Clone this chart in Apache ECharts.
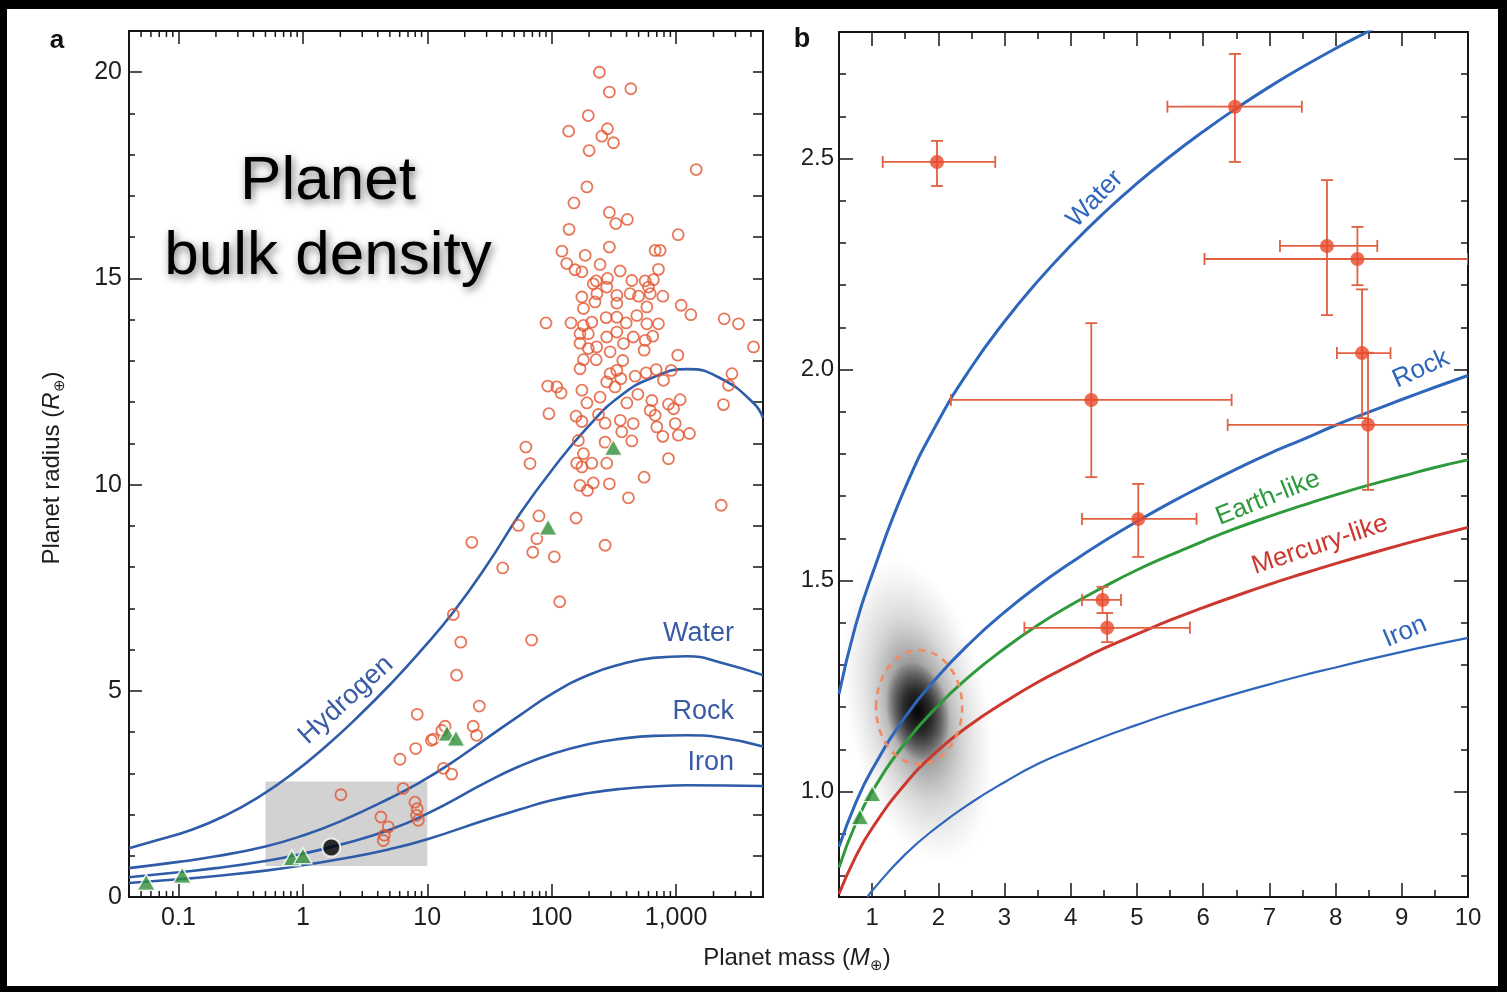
<!DOCTYPE html>
<html>
<head>
<meta charset="utf-8">
<script src="https://cdn.jsdelivr.net/npm/echarts@6/dist/echarts.min.js"></script>
<style>
  html, body { margin: 0; padding: 0; background: #fff; }
  #chart { width: 1507px; height: 992px; }
</style>
</head>
<body>
<div id="chart"></div>
<script>
// ---------- Panel a: mass–radius of known planets (Earth units) ----------
const exoplanetsA = [
  [242,20.0],[291,19.52],[433,19.6],[197,18.95],[137,18.57],[281,18.63],[253,18.45],[314,18.29],[200,18.1],[1452,17.64],
  [192,17.22],[151,16.83],[291,16.6],[328,16.33],[406,16.43],[138,16.19],[1040,16.06],[121,15.66],[186,15.56],[291,15.76],
  [679,15.68],[745,15.68],[132,15.36],[154,15.21],[175,15.16],[245,15.34],[355,15.18],[722,15.22],[281,15.0],[228,14.94],
  [441,14.95],[564,14.94],[658,14.97],[216,14.87],
  [231,14.63],[334,14.59],[499,14.57],[620,14.63],[783,14.57],[223,14.43],[334,14.4],[180,14.27],[582,14.31],[1099,14.35],
  [1315,14.12],[90,13.92],[143,13.92],[210,13.94],[274,14.05],[334,14.06],[397,13.92],[484,14.1],[582,13.9],[722,13.9],
  [2438,14.02],[3177,13.9],[4198,13.34],[169,13.66],[197,13.66],[334,13.7],[650,13.6],[169,13.43],[197,13.3],[295,13.22],
  [378,13.42],[554,13.26],[1033,13.14],[180,13.03],[228,13.03],[373,13.01],[169,12.81],[295,12.69],[334,12.77],[360,12.57],
  [277,12.49],[323,12.37],[469,12.63],[575,12.71],[692,12.79],[792,12.53],[914,12.77],[2813,12.69],[2642,12.41],[93,12.39],
  [119,12.22],[175,12.29],[192,11.98],[245,12.12],[402,11.98],[493,12.19],[639,12.04],[869,11.95],[1079,12.06],[2404,11.94],
  [95,11.72],[157,11.66],[175,11.53],[238,11.7],[269,11.49],[620,11.8],[679,11.68],[984,11.48],[366,11.28],[441,11.06],
  [700,11.4],[783,11.17],[1045,11.2],[1282,11.24],[164,11.07],[269,11.03],[62,10.91],[67,10.51],[159,10.52],[180,10.75],
  [175,10.43],[210,10.52],[277,10.52],[869,10.63],[169,9.98],[194,9.86],[216,10.04],[291,10.02],[554,10.18],[414,9.68],
  [2307,9.5],[79,9.24],[157,9.19],[54,9.01],[76,8.69],[269,8.53],
  [277,14.79],[600,14.79],[175,14.55],[427,14.63],[180,13.86],[230,13.34],[277,13.58],[453,13.58],[565,13.5],[110,12.37],
  [955,11.84],[356,11.56],[453,11.48],
  [22.8,8.6],[70.5,8.36],[105,8.25],[40.4,7.98],[116,7.16],[69,6.23],[16.2,6.85],[18.6,6.18],[17.2,5.38],[26.2,4.63],
  [23.4,4.14],[24.9,3.92],[13.9,4.14],[11.2,3.83],[13.1,4.04],[13.5,3.12],[15.7,2.98],
  [8.3,4.43],[6.03,3.34],[8.07,3.6],[10.8,3.8],[2.02,2.48],[6.4,2.63],[7.96,2.3],[8.3,2.14],[8.2,1.98],[8.47,1.86],
  [4.24,1.94],[4.86,1.7],[4.51,1.5],[4.43,1.37]
];

// Solar-system planets (Mercury, Mars, Venus, Earth, Uranus, Neptune, Saturn, Jupiter)
const solarPlanetsA = [[0.055,0.36],[0.107,0.53],[0.815,0.95],[1.0,1.0],[14.4,3.97],[17.0,3.85],[93.6,8.97],[313,10.9]];
const kepler78b = [1.69, 1.20];
const zoomBoxA = [0.5, 0.75, 10, 2.8];

// Composition curves, panel a
const hydrogenCurveA = [[0.04,1.18],[0.068,1.38],[0.128,1.63],[0.236,1.97],[0.434,2.41],[0.816,2.98],[1.5,3.63],[2.77,4.37],
  [5.2,5.2],[8.75,5.95],[16.1,6.9],[30.2,8.05],[55.8,9.3],[102,10.38],[193,11.38],[356,12.15],[655,12.6],[1228,12.8],
  [2270,12.58],[4190,11.98],[5000,11.62]];
const waterCurveA = [[0.04,0.70],[0.1,0.851],[0.2,0.986],[0.5,1.226],[1,1.49],[2,1.835],[5,2.395],[8.75,2.782],[15,3.215],
  [30.2,3.853],[55,4.399],[102,4.937],[200,5.388],[356,5.639],[655,5.798],[1228,5.839],[2270,5.689],[5000,5.38]];
const rockCurveA = [[0.04,0.48],[0.1,0.6],[0.2,0.70],[0.5,0.874],[1,1.05],[2,1.27],[5,1.63],[10,2.02],[30.2,2.79],[55,3.17],
  [102,3.475],[200,3.71],[356,3.834],[655,3.908],[1228,3.922],[2270,3.869],[5000,3.649]];
const ironCurveA = [[0.04,0.34],[0.1,0.43],[0.2,0.51],[0.5,0.64],[1,0.77],[2,0.92],[5,1.16],[10,1.40],[30.2,1.88],[55,2.12],
  [102,2.35],[200,2.52],[356,2.62],[655,2.68],[1228,2.71],[5000,2.69]];

// ---------- Panel b: small planets with measured masses ----------
const massB      = [1.98, 6.48, 7.87, 8.33, 8.40, 8.49, 4.31, 5.02, 4.48, 4.55];
const radiusB    = [2.492, 2.623, 2.293, 2.262, 2.039, 1.869, 1.928, 1.646, 1.454, 1.388];
const massLoB    = [1.16, 5.46, 7.16, 6.02, 8.02, 6.37, 2.19, 4.17, 4.17, 3.30];
const massHiB    = [2.86, 7.49, 8.63, 10.0, 8.83, 10.1, 6.43, 5.90, 4.76, 5.80];
const radiusLoB  = [2.435, 2.492, 2.129, 2.20, 1.885, 1.715, 1.745, 1.556, 1.423, 1.354];
const radiusHiB  = [2.542, 2.748, 2.449, 2.338, 2.19, 2.04, 2.11, 1.729, 1.485, 1.423];
const solarPlanetsB = [[0.815,0.94],[1.0,0.995]];
// Kepler-78b posterior: centre, half-extent of the shaded cloud and of the dashed contour
const cloudB   = [1.69, 1.19, 1.08, 0.37];
const contourB = [1.71, 1.20, 0.65, 0.135];

const waterCurveB = [[0.5,1.231],[0.75,1.393],[1,1.514],[1.5,1.72],[2,1.878],[2.5,2.006],[3,2.114],[3.5,2.209],[4,2.294],
  [4.5,2.371],[5,2.441],[5.5,2.505],[6,2.564],[6.5,2.619],[7,2.67],[7.5,2.717],[8,2.761],[8.5,2.802],[9,2.843]];
const rockCurveB = [[0.5,0.869],[0.75,0.972],[1,1.052],[1.5,1.177],[2,1.274],[2.5,1.355],[3,1.425],[3.5,1.487],[4,1.542],
  [4.5,1.593],[5,1.64],[5.5,1.684],[6,1.725],[6.5,1.764],[7,1.801],[7.5,1.834],[8,1.868],[8.5,1.899],[9,1.929],[9.5,1.958],[10,1.986]];
const earthCurveB = [[0.5,0.82],[0.75,0.923],[1,1.0],[1.5,1.115],[2,1.204],[2.5,1.277],[3,1.339],[3.5,1.394],[4,1.442],
  [4.5,1.485],[5,1.525],[5.5,1.56],[6,1.593],[6.5,1.624],[7,1.652],[7.5,1.678],[8,1.703],[8.5,1.726],[9,1.747],[9.5,1.768],[10,1.786]];
const mercuryCurveB = [[0.5,0.757],[0.75,0.845],[1,0.913],[1.5,1.018],[2,1.098],[2.5,1.16],[3,1.212],[3.5,1.259],[4,1.30],
  [4.5,1.339],[5,1.373],[5.5,1.406],[6,1.436],[6.5,1.464],[7,1.491],[7.5,1.516],[8,1.54],[8.5,1.563],[9,1.585],[9.5,1.606],[10,1.626]];
const ironCurveB = [[0.93,0.75],[1,0.765],[1.5,0.851],[2,0.918],[2.5,0.974],[3,1.022],[3.5,1.065],[4,1.099],[4.5,1.13],
  [5,1.158],[5.5,1.185],[6,1.209],[6.5,1.232],[7,1.254],[7.5,1.275],[8,1.294],[8.5,1.313],[9,1.331],[9.5,1.348],[10,1.364]];

// ---------- Tick labels ----------
const massTicksA  = [0.1, 1, 10, 100, 1000];
const massLabelsA = ['0.1', '1', '10', '100', '1,000'];
const radiusTicksA = [0, 5, 10, 15, 20];
const massTicksB  = [1, 2, 3, 4, 5, 6, 7, 8, 9, 10];
const radiusTicksB = [1.0, 1.5, 2.0, 2.5];

// ---------- Styling ----------
const FONT = "'Liberation Sans', Arial, Helvetica, sans-serif";
const AXIS = '#161616';
const TEXT = '#1e1e1e';
const BLUE_A = '#2f5ca8';
const BLUE_B = '#2e66bb';
const LABEL_BLUE = '#3a5aa6';
const GREEN = '#2e9a3c';
const TRI_GREEN = '#2f8e37';
const MERC_RED = '#cc372e';
const EXO_RED = '#e2552f';
const PT_RED = '#e8482a';

const near = (a, b) => Math.abs(a - b) < 1e-6 * Math.max(1, Math.abs(b));

// log-axis minor ticks at 2..9 x 10^n inside the mass range of panel a
const minorMassA = [];
[0.01, 0.1, 1, 10, 100, 1000].forEach(d => {
  for (let k = 2; k <= 9; k++) {
    const v = k * d;
    if (v > 0.04 && v < 5000) minorMassA.push([v, 0]);
  }
});

const axisLine = { show: true, onZero: false, lineStyle: { color: AXIS, width: 2 } };
const labelBase = { color: TEXT, fontFamily: FONT, fontSize: 25 };

function massAxisA(position, labels) {
  return {
    type: 'log', logBase: 10, gridIndex: 0, position, min: 0.04, max: 5000,
    axisLine,
    axisTick: { show: true, inside: true, length: 13, lineStyle: { color: AXIS, width: 1.5 } },
    axisLabel: Object.assign({ show: labels, margin: 9, showMinLabel: true, showMaxLabel: true,
      formatter: v => { const i = massTicksA.findIndex(t => near(v, t)); return i >= 0 ? massLabelsA[i] : ''; } }, labelBase),
    splitLine: { show: false }
  };
}
function radiusAxisA(position, labels) {
  return {
    type: 'value', gridIndex: 0, position, min: 0, max: 21, interval: labels ? 5 : 1,
    axisLine,
    axisTick: { show: true, inside: true, length: labels ? 13 : 10, lineStyle: { color: AXIS, width: 1.5 } },
    minorTick: { show: labels, splitNumber: 5, length: 6, lineStyle: { color: AXIS, width: 1.5 } },
    axisLabel: Object.assign({ show: labels, margin: 7,
      formatter: v => radiusTicksA.some(t => near(v, t)) ? String(v) : '' }, labelBase),
    splitLine: { show: false }
  };
}
function massAxisB(position, labels) {
  return {
    type: 'value', gridIndex: 1, position, min: 0.5, max: 10, minInterval: 1, maxInterval: 1,
    axisLine,
    axisTick: { show: true, inside: true, length: 14, lineStyle: { color: AXIS, width: 1.5 } },
    minorTick: { show: true, splitNumber: 2, length: 7, lineStyle: { color: AXIS, width: 1.5 } },
    axisLabel: Object.assign({ show: labels, margin: 9,
      formatter: v => massTicksB.some(t => near(v, t)) ? String(Math.round(v)) : '' }, labelBase, { fontSize: 24 }),
    splitLine: { show: false }
  };
}
function radiusAxisB(position, labels) {
  return {
    type: 'value', gridIndex: 1, position, min: 0.75, max: 2.8, minInterval: 0.5, maxInterval: 0.5,
    axisLine,
    axisTick: { show: true, inside: true, length: 14, lineStyle: { color: AXIS, width: 1.5 } },
    minorTick: { show: true, splitNumber: 5, length: 7, lineStyle: { color: AXIS, width: 1.5 } },
    axisLabel: Object.assign({ show: labels, margin: 5,
      formatter: v => radiusTicksB.some(t => near(v, t)) ? v.toFixed(1) : '' }, labelBase, { fontSize: 24 }),
    splitLine: { show: false }
  };
}

function curve(name, data, color, width, xi, yi) {
  return { name, type: 'line', xAxisIndex: xi, yAxisIndex: yi, data, smooth: 0.5, showSymbol: false,
    lineStyle: { color, width }, z: 3, silent: true };
}

// Error bars with end caps (panel b)
const errorRows = massB.map((m, i) => [m, radiusB[i], massLoB[i], massHiB[i], radiusLoB[i], radiusHiB[i]]);
function renderErrorBar(params, api) {
  const x = api.value(0), y = api.value(1);
  const l = api.coord([api.value(2), y]), h = api.coord([api.value(3), y]);
  const lo = api.coord([x, api.value(4)]), hi = api.coord([x, api.value(5)]);
  const cap = 6;
  const st = { stroke: '#e0603f', lineWidth: 1.8 };
  const ln = (x1, y1, x2, y2) => ({ type: 'line', shape: { x1, y1, x2, y2 }, style: st });
  return { type: 'group', children: [
    ln(l[0], l[1], h[0], h[1]),
    ln(lo[0], lo[1], hi[0], hi[1]),
    ln(l[0], l[1] - cap, l[0], l[1] + cap),
    ln(h[0], h[1] - cap, h[0], h[1] + cap),
    ln(lo[0] - cap, lo[1], lo[0] + cap, lo[1]),
    ln(hi[0] - cap, hi[1], hi[0] + cap, hi[1])
  ] };
}

function renderCloud(params, api) {
  const c = api.coord([api.value(0), api.value(1)]);
  const rx = api.size([api.value(2), 0])[0];
  const ry = api.size([0, api.value(3)])[1];
  const halo = { type: 'radial', x: 0.5, y: 0.5, r: 0.5, colorStops: [
    { offset: 0, color: 'rgba(0,0,0,0.6)' }, { offset: 0.3, color: 'rgba(25,25,25,0.45)' },
    { offset: 0.6, color: 'rgba(90,90,90,0.24)' }, { offset: 0.85, color: 'rgba(140,140,140,0.1)' },
    { offset: 1, color: 'rgba(180,180,180,0)' } ] };
  const core = { type: 'radial', x: 0.5, y: 0.5, r: 0.5, colorStops: [
    { offset: 0, color: 'rgba(0,0,0,0.95)' }, { offset: 0.45, color: 'rgba(10,10,10,0.7)' },
    { offset: 1, color: 'rgba(0,0,0,0)' } ] };
  return { type: 'group', children: [
    { type: 'circle', x: c[0], y: c[1], rotation: 0.2, scaleY: ry / rx, shape: { cx: 0, cy: 0, r: rx }, style: { fill: halo } },
    { type: 'circle', x: c[0], y: c[1], rotation: 0.2, scaleY: (ry * 0.32) / (rx * 0.44), shape: { cx: 0, cy: 0, r: rx * 0.44 }, style: { fill: core } }
  ] };
}

function renderContour(params, api) {
  const c = api.coord([api.value(0), api.value(1)]);
  const rx = api.size([api.value(2), 0])[0];
  const ry = api.size([0, api.value(3)])[1];
  return { type: 'ellipse', shape: { cx: c[0], cy: c[1], rx, ry },
    style: { fill: 'none', stroke: '#f08a62', lineWidth: 2.6, lineDash: [7, 6] } };
}

function renderBox(params, api) {
  const a = api.coord([api.value(0), api.value(1)]);
  const b = api.coord([api.value(2), api.value(3)]);
  return { type: 'rect', shape: { x: a[0], y: b[1], width: b[0] - a[0], height: a[1] - b[1] }, style: { fill: '#d2d2d2' } };
}

function renderMinorMass(params, api) {
  const v = api.value(0);
  const b = api.coord([v, 0]);
  const t = api.coord([v, 21]);
  const st = { stroke: AXIS, lineWidth: 1.5 };
  return { type: 'group', children: [
    { type: 'line', shape: { x1: b[0], y1: b[1], x2: b[0], y2: b[1] - 6 }, style: st },
    { type: 'line', shape: { x1: t[0], y1: t[1], x2: t[0], y2: t[1] + 6 }, style: st }
  ] };
}

function label(text, x, y, color, size, rotation, align) {
  return { type: 'text', x, y, rotation: rotation || 0, z: 50,
    style: { text, fill: color, fontFamily: FONT, fontSize: size, align: align || 'center', verticalAlign: 'middle',
      textAlign: align || 'center', textVerticalAlign: 'middle' } };
}

const option = {
  backgroundColor: '#ffffff',
  animation: false,
  grid: [
    { left: 129, top: 31, width: 634, height: 866 },
    { left: 839, top: 32, width: 629, height: 865 }
  ],
  xAxis: [ massAxisA('bottom', true), massAxisA('top', false), massAxisB('bottom', true), massAxisB('top', false) ],
  yAxis: [ radiusAxisA('left', true), radiusAxisA('right', false), radiusAxisB('left', true), radiusAxisB('right', false) ],
  series: [
    // panel a
    { type: 'custom', xAxisIndex: 0, yAxisIndex: 0, data: [zoomBoxA], encode: { x: [0, 2], y: [1, 3] }, renderItem: renderBox, z: 1, silent: true },
    curve('Hydrogen', hydrogenCurveA, BLUE_A, 2.6, 0, 0),
    curve('Water', waterCurveA, BLUE_A, 2.6, 0, 0),
    curve('Rock', rockCurveA, BLUE_A, 2.6, 0, 0),
    curve('Iron', ironCurveA, BLUE_A, 2.6, 0, 0),
    { type: 'scatter', xAxisIndex: 0, yAxisIndex: 0, data: exoplanetsA, symbol: 'circle', symbolSize: 11, z: 4, silent: true,
      itemStyle: { color: 'rgba(255,255,255,0)', borderColor: EXO_RED, borderWidth: 1.8 } },
    { type: 'scatter', xAxisIndex: 0, yAxisIndex: 0, data: solarPlanetsA, symbol: 'triangle', symbolSize: [18, 16], z: 5, silent: true,
      itemStyle: { color: TRI_GREEN, borderColor: '#ffffff', borderWidth: 1.5 } },
    { type: 'scatter', xAxisIndex: 0, yAxisIndex: 0, data: [kepler78b], symbol: 'circle', symbolSize: 18, z: 6, silent: true,
      itemStyle: { color: '#000000', borderColor: '#ffffff', borderWidth: 2 } },
    { type: 'custom', xAxisIndex: 0, yAxisIndex: 0, data: minorMassA, renderItem: renderMinorMass, z: 20, silent: true },
    // panel b
    { type: 'custom', xAxisIndex: 2, yAxisIndex: 2, data: [cloudB], renderItem: renderCloud, z: 1, silent: true, clip: true },
    curve('Water', waterCurveB, BLUE_B, 3, 2, 2),
    curve('Rock', rockCurveB, BLUE_B, 3, 2, 2),
    curve('Earth-like', earthCurveB, GREEN, 3, 2, 2),
    curve('Mercury-like', mercuryCurveB, MERC_RED, 3, 2, 2),
    curve('Iron', ironCurveB, BLUE_B, 2.2, 2, 2),
    { type: 'custom', xAxisIndex: 2, yAxisIndex: 2, data: [contourB], renderItem: renderContour, z: 4, silent: true },
    { type: 'custom', xAxisIndex: 2, yAxisIndex: 2, data: errorRows, encode: { x: 0, y: 1 }, renderItem: renderErrorBar, z: 5, silent: true, clip: true },
    { type: 'scatter', xAxisIndex: 2, yAxisIndex: 2, data: massB.map((m, i) => [m, radiusB[i]]), symbol: 'circle', symbolSize: 14, z: 6, silent: true,
      itemStyle: { color: PT_RED } },
    { type: 'scatter', xAxisIndex: 2, yAxisIndex: 2, data: solarPlanetsB, symbol: 'triangle', symbolSize: [18, 16], z: 6, silent: true,
      itemStyle: { color: TRI_GREEN, borderColor: '#ffffff', borderWidth: 1.5 } }
  ],
  graphic: [
    // frame
    { type: 'rect', shape: { x: 0, y: 0, width: 1507, height: 9 }, style: { fill: '#000' }, z: 100 },
    { type: 'rect', shape: { x: 0, y: 0, width: 7, height: 992 }, style: { fill: '#000' }, z: 100 },
    { type: 'rect', shape: { x: 1498, y: 0, width: 9, height: 992 }, style: { fill: '#000' }, z: 100 },
    { type: 'rect', shape: { x: 0, y: 986, width: 1507, height: 6 }, style: { fill: '#000' }, z: 100 },
    // headline
    { type: 'text', x: 328, y: 182, z: 60, style: { text: 'Planet', fill: '#000', fontFamily: FONT, fontSize: 62,
      align: 'center', verticalAlign: 'middle', textAlign: 'center', textVerticalAlign: 'middle',
      textShadowColor: 'rgba(0,0,0,0.55)', textShadowBlur: 8, textShadowOffsetX: 2, textShadowOffsetY: 3 } },
    { type: 'text', x: 328, y: 257, z: 60, style: { text: 'bulk density', fill: '#000', fontFamily: FONT, fontSize: 62,
      align: 'center', verticalAlign: 'middle', textAlign: 'center', textVerticalAlign: 'middle',
      textShadowColor: 'rgba(0,0,0,0.55)', textShadowBlur: 8, textShadowOffsetX: 2, textShadowOffsetY: 3 } },
    // panel letters
    { type: 'text', x: 57, y: 41, z: 50, style: { text: 'a', fill: '#111', fontFamily: FONT, fontSize: 26, fontWeight: 'bold',
      align: 'center', verticalAlign: 'middle', textAlign: 'center', textVerticalAlign: 'middle' } },
    { type: 'text', x: 802, y: 40, z: 50, style: { text: 'b', fill: '#111', fontFamily: FONT, fontSize: 27, fontWeight: 'bold',
      align: 'center', verticalAlign: 'middle', textAlign: 'center', textVerticalAlign: 'middle' } },
    // axis titles
    { type: 'text', x: 52, y: 468, rotation: Math.PI / 2, z: 50, style: {
      text: 'Planet radius ({it|R}{sub|⊕})', fill: TEXT, fontFamily: FONT, fontSize: 24, lineHeight: 30,
      align: 'center', verticalAlign: 'middle', textAlign: 'center', textVerticalAlign: 'middle',
      rich: { it: { fontStyle: 'italic', fontSize: 24, fontFamily: FONT, fill: TEXT, lineHeight: 30 },
              sub: { fontSize: 15, fontFamily: FONT, fill: TEXT, verticalAlign: 'bottom', lineHeight: 16 } } } },
    { type: 'text', x: 797, y: 958, z: 50, style: {
      text: 'Planet mass ({it|M}{sub|⊕})', fill: TEXT, fontFamily: FONT, fontSize: 24, lineHeight: 30,
      align: 'center', verticalAlign: 'middle', textAlign: 'center', textVerticalAlign: 'middle',
      rich: { it: { fontStyle: 'italic', fontSize: 24, fontFamily: FONT, fill: TEXT, lineHeight: 30 },
              sub: { fontSize: 15, fontFamily: FONT, fill: TEXT, verticalAlign: 'bottom', lineHeight: 16 } } } },
    // curve labels, panel a
    label('Hydrogen', 346, 700, LABEL_BLUE, 27, 0.74),
    label('Water', 734, 634, LABEL_BLUE, 27, 0, 'right'),
    label('Rock', 734, 712, LABEL_BLUE, 27, 0, 'right'),
    label('Iron', 734, 763, LABEL_BLUE, 27, 0, 'right'),
    // curve labels, panel b
    label('Water', 1095, 199, BLUE_B, 26, 0.80),
    label('Rock', 1421, 369, BLUE_B, 26, 0.42),
    label('Earth-like', 1268, 498, GREEN, 26, 0.38),
    label('Mercury-like', 1320, 545, MERC_RED, 26, 0.32),
    label('Iron', 1405, 632, BLUE_B, 26, 0.40)
  ]
};

const chart = echarts.init(document.getElementById('chart'), null, { renderer: 'canvas', width: 1507, height: 992 });
chart.setOption(option);
</script>
</body>
</html>
